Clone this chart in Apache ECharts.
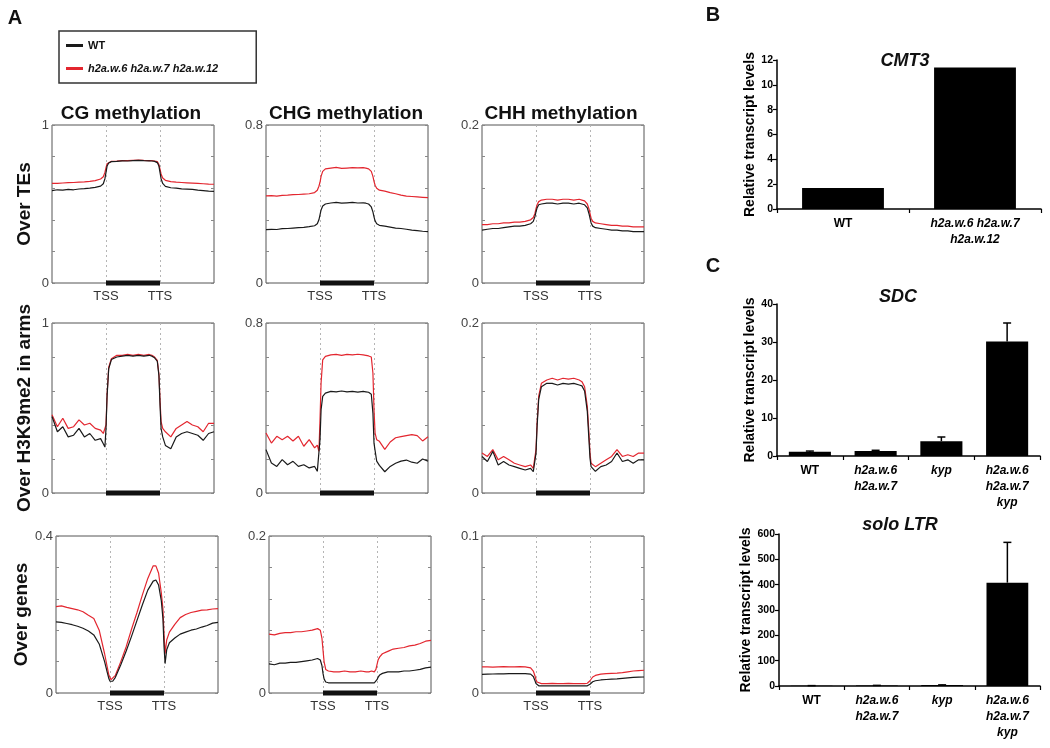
<!DOCTYPE html>
<html><head><meta charset="utf-8">
<script src="https://cdn.jsdelivr.net/npm/echarts@6/dist/echarts.min.js"></script>
<style>html,body{margin:0;padding:0;background:#fff}#c{width:1050px;height:748px}</style>
</head><body><div id="c"></div>
<script>
// ---------- DATA ----------
const xs = [0,0.1,0.2,0.3,0.4,0.5,0.6,0.7,0.8,0.9,0.95,0.98,1.0,1.02,1.05,1.1,1.2,1.3,1.4,1.5,1.6,1.7,1.8,1.85,1.9,1.95,1.98,2.0,2.02,2.05,2.1,2.2,2.3,2.4,2.5,2.6,2.7,2.8,2.9,3.0];
const xTickNames = {1:'TSS', 2:'TTS'};
const geneBody = [1, 2];

// Over TEs
const teCG_mut = [0.630,0.630,0.633,0.635,0.636,0.638,0.640,0.643,0.648,0.658, 0.672,0.700,0.730,0.755,0.765, 0.770,0.772,0.775,0.774,0.776,0.778,0.776,0.775, 0.774,0.772,0.768,0.750,0.720,0.690,0.665, 0.650,0.642,0.638,0.636,0.634,0.632,0.630,0.628,0.626,0.625];
const teCG_wt  = [0.585,0.590,0.588,0.592,0.590,0.595,0.597,0.600,0.605,0.613, 0.628,0.660,0.700,0.740,0.760, 0.768,0.770,0.773,0.772,0.775,0.776,0.774,0.773, 0.772,0.770,0.762,0.740,0.700,0.660,0.630, 0.612,0.603,0.600,0.596,0.594,0.592,0.588,0.585,0.582,0.580];
const teCHG_mut = [0.441,0.442,0.440,0.444,0.445,0.447,0.448,0.450,0.452,0.458, 0.470,0.490,0.510,0.540,0.565, 0.578,0.582,0.585,0.580,0.582,0.584,0.583,0.584, 0.582,0.578,0.565,0.540,0.515,0.495,0.480, 0.470,0.465,0.458,0.452,0.445,0.440,0.438,0.436,0.434,0.432];
const teCHG_wt  = [0.270,0.272,0.271,0.275,0.276,0.278,0.280,0.282,0.285,0.290, 0.300,0.320,0.345,0.370,0.390, 0.400,0.405,0.408,0.404,0.406,0.408,0.405,0.406, 0.404,0.400,0.385,0.360,0.335,0.315,0.300, 0.292,0.288,0.283,0.278,0.276,0.272,0.268,0.265,0.262,0.260];
const teCHH_mut = [0.074,0.074,0.075,0.075,0.076,0.076,0.077,0.077,0.078,0.080, 0.083,0.088,0.094,0.099,0.103, 0.105,0.106,0.106,0.105,0.106,0.106,0.105,0.106, 0.105,0.104,0.100,0.094,0.088,0.082,0.078, 0.076,0.075,0.074,0.073,0.073,0.072,0.072,0.071,0.071,0.071];
const teCHH_wt  = [0.067,0.068,0.069,0.069,0.070,0.071,0.072,0.072,0.073,0.075, 0.078,0.084,0.090,0.095,0.099, 0.100,0.101,0.101,0.100,0.101,0.101,0.100,0.101, 0.100,0.099,0.095,0.088,0.082,0.076,0.072, 0.070,0.069,0.068,0.067,0.067,0.066,0.066,0.065,0.065,0.065];

// Over H3K9me2 in arms
const k9CG_mut = [0.46,0.39,0.44,0.38,0.39,0.43,0.40,0.41,0.38,0.37, 0.35,0.34,0.40,0.58,0.74, 0.79,0.81,0.81,0.815,0.81,0.815,0.81,0.815, 0.81,0.80,0.78,0.70,0.55,0.42,0.38, 0.36,0.33,0.38,0.40,0.42,0.40,0.39,0.36,0.41,0.41];
const k9CG_wt  = [0.45,0.36,0.39,0.33,0.34,0.38,0.33,0.35,0.31,0.32, 0.29,0.27,0.38,0.57,0.73, 0.785,0.80,0.805,0.81,0.805,0.81,0.805,0.81, 0.805,0.795,0.775,0.69,0.52,0.38,0.33, 0.28,0.26,0.33,0.35,0.36,0.35,0.34,0.31,0.35,0.36];
const k9CHG_mut = [0.282,0.235,0.267,0.251,0.267,0.245,0.267,0.220,0.251,0.212, 0.225,0.196,0.345,0.518,0.627, 0.643,0.650,0.652,0.648,0.652,0.650,0.653,0.650, 0.648,0.645,0.640,0.565,0.392,0.282,0.251, 0.243,0.205,0.240,0.260,0.265,0.270,0.275,0.270,0.245,0.265];
const k9CHG_wt  = [0.204,0.141,0.125,0.157,0.133,0.149,0.125,0.133,0.118,0.125, 0.102,0.094,0.251,0.392,0.455, 0.470,0.478,0.476,0.480,0.476,0.478,0.475,0.478, 0.476,0.474,0.465,0.376,0.235,0.200,0.150, 0.130,0.100,0.125,0.140,0.150,0.155,0.145,0.140,0.160,0.150];
const k9CHH_mut = [0.047,0.043,0.051,0.039,0.043,0.039,0.035,0.033,0.031,0.033, 0.029,0.027,0.051,0.082,0.114, 0.129,0.133,0.135,0.133,0.135,0.134,0.135,0.133, 0.131,0.125,0.102,0.071,0.047,0.035,0.033, 0.031,0.035,0.039,0.043,0.051,0.043,0.045,0.043,0.047,0.047];
const k9CHH_wt  = [0.043,0.037,0.049,0.033,0.037,0.033,0.031,0.029,0.027,0.029, 0.025,0.0235,0.047,0.078,0.110, 0.125,0.129,0.129,0.127,0.129,0.128,0.129,0.127, 0.126,0.120,0.096,0.063,0.041,0.031,0.029, 0.0255,0.031,0.033,0.037,0.047,0.037,0.039,0.035,0.039,0.039];

// Over genes
const gnCG_mut = [0.220,0.222,0.218,0.215,0.212,0.207,0.198,0.190,0.160,0.100, 0.065,0.045,0.040,0.034,0.033, 0.045,0.080,0.118,0.163,0.205,0.250,0.292,0.324, 0.324,0.305,0.255,0.215,0.150,0.100,0.135, 0.155,0.175,0.192,0.200,0.205,0.208,0.211,0.212,0.214,0.215];
const gnCG_wt  = [0.181,0.180,0.177,0.174,0.170,0.165,0.158,0.148,0.125,0.080, 0.052,0.036,0.030,0.029,0.030, 0.040,0.072,0.107,0.145,0.185,0.225,0.262,0.285, 0.288,0.275,0.235,0.190,0.120,0.075,0.110, 0.128,0.140,0.150,0.155,0.160,0.163,0.168,0.172,0.178,0.180];
const gnCHG_mut = [0.075,0.074,0.076,0.077,0.077,0.078,0.078,0.079,0.080,0.082, 0.080,0.070,0.055,0.040,0.030, 0.028,0.027,0.027,0.028,0.027,0.027,0.028,0.027, 0.027,0.028,0.027,0.030,0.036,0.042,0.046, 0.050,0.053,0.056,0.057,0.058,0.060,0.061,0.063,0.066,0.067];
const gnCHG_wt  = [0.037,0.036,0.038,0.038,0.039,0.039,0.040,0.041,0.042,0.044, 0.042,0.035,0.025,0.018,0.014, 0.013,0.013,0.013,0.013,0.013,0.013,0.013,0.013, 0.013,0.013,0.013,0.014,0.017,0.020,0.023, 0.025,0.027,0.027,0.027,0.028,0.028,0.029,0.030,0.032,0.033];
const gnCHH_mut = [0.0166,0.0166,0.0165,0.0167,0.0168,0.0166,0.0167,0.0168,0.0166,0.0160, 0.0140,0.0110,0.0085,0.0070,0.0062, 0.0060,0.0060,0.0061,0.0060,0.0060,0.0061,0.0060,0.0060, 0.0060,0.0060,0.0062,0.0068,0.0078,0.0090,0.0102, 0.0112,0.0120,0.0123,0.0125,0.0127,0.0130,0.0135,0.0140,0.0143,0.0145];
const gnCHH_wt  = [0.0119,0.0120,0.0121,0.0122,0.0122,0.0123,0.0123,0.0124,0.0124,0.0120, 0.0105,0.0080,0.0060,0.0050,0.0046, 0.0045,0.0045,0.0045,0.0045,0.0045,0.0045,0.0045,0.0045, 0.0045,0.0045,0.0046,0.0050,0.0056,0.0064,0.0072, 0.0078,0.0083,0.0086,0.0088,0.0090,0.0093,0.0096,0.0099,0.0101,0.0102];

const rowNames = ['Over TEs', 'Over H3K9me2 in arms', 'Over genes'];
const colTitles = ['CG methylation', 'CHG methylation', 'CHH methylation'];
const yMax = [[1, 0.8, 0.2], [1, 0.8, 0.2], [0.4, 0.2, 0.1]];
const WT_NAME = 'WT';
const MUT_NAME = 'h2a.w.6 h2a.w.7 h2a.w.12';

// Panel B
const cmt3Cats = ['WT', 'h2a.w.6 h2a.w.7\nh2a.w.12'];
const cmt3Vals = [1.7, 11.4];
// Panel C
const cCats = ['WT', 'h2a.w.6\nh2a.w.7', 'kyp', 'h2a.w.6\nh2a.w.7\nkyp'];
const sdcVals = [1.1, 1.3, 3.9, 30.1];
const sdcErr  = [0.2, 0.2, 1.1, 4.9];
const ltrVals = [1.0, 2.0, 3.5, 408];
const ltrErr  = [0.5, 0.5, 1.0, 159];

// ---------- LAYOUT / STYLE ----------
const FF = 'Liberation Sans, Arial, sans-serif';
const gridLeft = [[52, 266, 482], [52, 266, 482], [56, 269, 482]];
const gridTop = [125, 323, 536];
const gridH = [158, 170, 157];
const gridW = 162;
const RED = '#e3262f';
const BLK = '#1a1a1a';

const mutArr = [[teCG_mut, teCHG_mut, teCHH_mut], [k9CG_mut, k9CHG_mut, k9CHH_mut], [gnCG_mut, gnCHG_mut, gnCHH_mut]];
const wtArr  = [[teCG_wt, teCHG_wt, teCHH_wt], [k9CG_wt, k9CHG_wt, k9CHH_wt], [gnCG_wt, gnCHG_wt, gnCHH_wt]];

const grid = [], xAxis = [], yAxis = [], series = [];
const near = (a, b) => Math.abs(a - b) < 1e-9;

for (let r = 0; r < 3; r++) {
  for (let c = 0; c < 3; c++) {
    const i = r * 3 + c;
    const max = yMax[r][c];
    grid.push({left: gridLeft[r][c], top: gridTop[r], width: gridW, height: gridH[r],
      show: true, borderColor: '#555', borderWidth: 1});
    xAxis.push({gridIndex: i, type: 'value', min: 0, max: 3, interval: 1,
      axisLine: {show: false}, axisTick: {show: false},
      splitLine: {show: true, showMinLine: false, showMaxLine: false, lineStyle: {color: '#b5b5b5', type: [2, 3], width: 1}},
      axisLabel: {show: r !== 1, fontSize: 13, color: '#333', margin: 7, fontFamily: FF,
        formatter: v => xTickNames[v] || ''}});
    yAxis.push({gridIndex: i, type: 'value', min: 0, max: max, interval: max / 5,
      axisLine: {show: false},
      axisTick: {show: true, inside: true, length: 3, lineStyle: {color: '#888'}},
      splitLine: {show: false},
      axisLabel: {fontSize: 13, color: '#444', margin: 3, fontFamily: FF,
        formatter: v => (near(v, 0) || near(v, max)) ? String(+(+v).toFixed(3)) : ''},
      name: c === 0 ? rowNames[r] : '', nameLocation: 'middle', nameRotate: 90, nameGap: 18,
      nameTextStyle: {fontSize: 19, fontWeight: 'bold', color: '#111', fontFamily: FF}});
    yAxis.push({gridIndex: i, type: 'value', position: 'right', min: 0, max: max, interval: max / 5,
      axisLine: {show: false},
      axisTick: {show: true, inside: true, length: 3, lineStyle: {color: '#888'}},
      axisLabel: {show: false}, splitLine: {show: false}});
    series.push({type: 'line', name: MUT_NAME, xAxisIndex: i, yAxisIndex: 2 * i,
      data: xs.map((x, k) => [x, mutArr[r][c][k]]), symbol: 'none',
      lineStyle: {color: RED, width: 1.2}, itemStyle: {color: RED}, z: 2});
    series.push({type: 'line', name: WT_NAME, xAxisIndex: i, yAxisIndex: 2 * i,
      data: xs.map((x, k) => [x, wtArr[r][c][k]]), symbol: 'none',
      lineStyle: {color: BLK, width: 1.2}, itemStyle: {color: BLK}, z: 3});
    series.push({type: 'line', name: 'gene body', xAxisIndex: i, yAxisIndex: 2 * i,
      data: [[geneBody[0], 0], [geneBody[1], 0]], symbol: 'none', clip: false, silent: true,
      lineStyle: {color: '#111', width: 5, cap: 'butt'}, z: 4});
  }
}

// bar chart helpers
const richCat = {
  n: {fontWeight: 'bold', fontSize: 12, color: '#000', fontFamily: FF, lineHeight: 16},
  i: {fontWeight: 'bold', fontStyle: 'italic', fontSize: 12, color: '#000', fontFamily: FF, lineHeight: 16}
};
const catFmt = v => v === 'WT' ? '{n|WT}' : v.split('\n').map(s => '{i|' + s + '}').join('\n');

const barGrids = [
  {left: 777, top: 60, width: 264, height: 149, max: 12, interval: 2, cats: cmt3Cats, vals: cmt3Vals, err: null, gap: 20, bw: '62%'},
  {left: 777, top: 304, width: 263, height: 152, max: 40, interval: 10, cats: cCats, vals: sdcVals, err: sdcErr, gap: 19, bw: '64%'},
  {left: 779, top: 534, width: 261, height: 152, max: 600, interval: 100, cats: cCats, vals: ltrVals, err: ltrErr, gap: 25, bw: '64%'}
];

barGrids.forEach((g, j) => {
  const gi = 9 + j;
  const yi = 18 + j;
  grid.push({left: g.left, top: g.top, width: g.width, height: g.height});
  xAxis.push({gridIndex: gi, type: 'category', data: g.cats,
    axisLine: {show: true, lineStyle: {color: '#000', width: 1.5}},
    axisTick: {show: true, length: 4, lineStyle: {color: '#000', width: 1.2}},
    axisLabel: {interval: 0, margin: 7, formatter: catFmt, rich: richCat}});
  yAxis.push({gridIndex: gi, type: 'value', min: 0, max: g.max, interval: g.interval,
    axisLine: {show: true, lineStyle: {color: '#000', width: 1.5}},
    axisTick: {show: true, length: 4, lineStyle: {color: '#000', width: 1.2}},
    splitLine: {show: false},
    axisLabel: {fontSize: 10.5, fontWeight: 'bold', color: '#000', margin: 4, fontFamily: FF},
    name: 'Relative transcript levels', nameLocation: 'middle', nameRotate: 90, nameGap: g.gap,
    nameTextStyle: {fontSize: 14, fontWeight: 'bold', color: '#000', fontFamily: FF}});
  series.push({type: 'bar', xAxisIndex: gi, yAxisIndex: yi, data: g.vals, barWidth: g.bw,
    itemStyle: {color: '#000'}, z: 2});
  if (g.err) {
    series.push({type: 'custom', xAxisIndex: gi, yAxisIndex: yi, z: 3,
      data: g.vals.map((v, k) => [k, v, g.err[k]]),
      encode: {x: 0, y: 1},
      renderItem: (params, api) => {
        const k = api.value(0), v = api.value(1), e = api.value(2);
        const base = api.coord([k, v]);
        const top = api.coord([k, v + e]);
        return {type: 'group', children: [
          {type: 'line', shape: {x1: base[0], y1: base[1], x2: top[0], y2: top[1]}, style: {stroke: '#000', lineWidth: 1.5}},
          {type: 'line', shape: {x1: top[0] - 4, y1: top[1], x2: top[0] + 4, y2: top[1]}, style: {stroke: '#000', lineWidth: 1.5}}
        ]};
      }});
  }
});

const txt = (text, x, y, font, extra) => Object.assign({type: 'text', x: x, y: y, silent: true,
  style: {text: text, font: font, fill: '#111', align: 'center', verticalAlign: 'middle'}}, extra || {});

const graphicEls = [
  txt('A', 15, 18, 'bold 20px ' + FF),
  txt('B', 713, 15, 'bold 20px ' + FF),
  txt('C', 713, 266, 'bold 20px ' + FF),
  txt(colTitles[0], 131, 114, 'bold 19px ' + FF),
  txt(colTitles[1], 346, 114, 'bold 19px ' + FF),
  txt(colTitles[2], 561, 114, 'bold 19px ' + FF),
  txt('CMT3', 905, 61, 'italic bold 18px ' + FF),
  txt('SDC', 898, 297, 'italic bold 18px ' + FF),
  txt('solo LTR', 900, 525, 'italic bold 18px ' + FF)
];

const option = {
  animation: false,
  backgroundColor: '#fff',
  textStyle: {fontFamily: FF},
  legend: {
    left: 59, top: 31, orient: 'vertical',
    data: [WT_NAME, MUT_NAME],
    borderColor: '#333', borderWidth: 1.5, borderRadius: 0,
    padding: [9, 38, 9, 7], itemGap: 12,
    icon: 'rect', itemWidth: 17, itemHeight: 3,
    textStyle: {fontSize: 11, fontWeight: 'bold', color: '#111', fontFamily: FF,
      rich: {i: {fontSize: 11, fontWeight: 'bold', fontStyle: 'italic', color: '#111', fontFamily: FF}}},
    formatter: name => name === MUT_NAME ? '{i|' + name + '}' : name,
    selectedMode: false
  },
  grid: grid, xAxis: xAxis, yAxis: yAxis, series: series,
  graphic: {elements: graphicEls}
};

const chart = echarts.init(document.getElementById('c'));
chart.setOption(option);
</script>
</body></html>
